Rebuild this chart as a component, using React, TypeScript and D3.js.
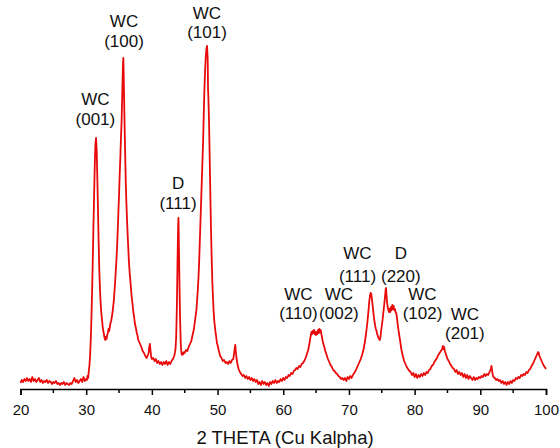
import React, { useEffect, useRef } from 'react';
import * as d3 from 'd3';

// XRD pattern: [2theta, intensity a.u.]
const base20to30: [number, number][] = [
  [20.0, 6], [20.2, 9], [20.4, 7], [20.6, 10], [20.8, 8], [21.0, 11], [21.2, 8], [21.4, 10], [21.6, 7], [21.8, 12],
  [22.0, 8], [22.2, 10], [22.4, 7], [22.6, 9], [22.8, 11], [23.0, 7], [23.2, 9], [23.4, 6], [23.6, 8], [23.8, 7],
  [24.0, 9], [24.2, 6], [24.4, 8], [24.6, 7], [24.8, 5], [25.0, 7], [25.2, 6], [25.4, 8], [25.6, 5], [25.8, 6],
  [26.0, 4], [26.2, 6], [26.4, 5], [26.6, 7], [26.8, 4], [27.0, 6], [27.2, 5], [27.4, 4], [27.6, 6], [27.8, 5],
  [28.0, 8], [28.2, 11], [28.4, 7], [28.6, 9], [28.8, 6], [29.0, 8], [29.2, 10], [29.4, 7], [29.6, 12], [29.8, 8],
  [30.0, 10],
];

const peaks30to55: [number, number][] = [
  [30.1, 9], [30.2, 13], [30.3, 11], [30.4, 18], [30.5, 24], [30.6, 34], [30.7, 50], [30.8, 72], [30.9, 98],
  [31.0, 128], [31.1, 162], [31.2, 192], [31.3, 222], [31.4, 244], [31.5, 251], [31.6, 238], [31.7, 210],
  [31.8, 178], [31.9, 146], [32.0, 118], [32.1, 100], [32.2, 86], [32.3, 76], [32.4, 70], [32.5, 63], [32.6, 58],
  [32.7, 55], [32.8, 51], [32.9, 49], [33.0, 52], [33.1, 50], [33.2, 54], [33.3, 56], [33.4, 60],
  [33.5, 58], [33.6, 62], [33.7, 66], [33.8, 68], [33.9, 72], [34.0, 76], [34.1, 82], [34.2, 88], [34.3, 97],
  [34.4, 106], [34.5, 118], [34.6, 128], [34.7, 142], [34.8, 158], [34.9, 176], [35.0, 194], [35.1, 214],
  [35.2, 232], [35.3, 252], [35.4, 270], [35.5, 298], [35.6, 325], [35.65, 331], [35.7, 318], [35.8, 280],
  [35.9, 246], [36.0, 214], [36.1, 190], [36.2, 172], [36.3, 156], [36.4, 142], [36.5, 128], [36.6, 118],
  [36.7, 110], [36.8, 102], [36.9, 94], [37.0, 88], [37.1, 82], [37.2, 76], [37.3, 72], [37.4, 66], [37.5, 63],
  [37.6, 60], [37.7, 56], [37.8, 54], [37.9, 50], [38.0, 48], [38.2, 45], [38.4, 42], [38.6, 38], [38.8, 36],
  [39.0, 33], [39.2, 31], [39.4, 34], [39.5, 36], [39.6, 42], [39.7, 45], [39.8, 38], [39.9, 32], [40.0, 30],
  [40.2, 31], [40.4, 28], [40.6, 30], [40.8, 26], [41.0, 28], [41.2, 25], [41.4, 27], [41.6, 24], [41.8, 27],
  [42.0, 25], [42.2, 28], [42.4, 24], [42.6, 27], [42.8, 25], [43.0, 28], [43.2, 30], [43.4, 33], [43.5, 36],
  [43.6, 40], [43.7, 52], [43.8, 80], [43.9, 125], [44.0, 165], [44.05, 171], [44.1, 150], [44.2, 105],
  [44.3, 68], [44.4, 45], [44.5, 36], [44.6, 34], [44.7, 36], [44.8, 35], [44.9, 37], [45.0, 36], [45.2, 39],
  [45.4, 38], [45.6, 42], [45.8, 45], [46.0, 48], [46.2, 54], [46.4, 60], [46.6, 70], [46.8, 80], [47.0, 100],
  [47.1, 112], [47.2, 128], [47.3, 148], [47.4, 168], [47.5, 188], [47.6, 208], [47.7, 228], [47.8, 248],
  [47.9, 275], [48.0, 300], [48.1, 318], [48.2, 332], [48.3, 340], [48.4, 343], [48.5, 330], [48.55, 300],
  [48.6, 292], [48.7, 268], [48.8, 232], [48.9, 195], [49.0, 160], [49.1, 132], [49.2, 108], [49.3, 92],
  [49.4, 78], [49.5, 68], [49.6, 62], [49.7, 56], [49.8, 52], [49.9, 46], [50.0, 44], [50.2, 38], [50.4, 33],
  [50.6, 31], [50.8, 28], [51.0, 29], [51.2, 26], [51.4, 27], [51.6, 25], [51.8, 28], [52.0, 26], [52.2, 29],
  [52.4, 30], [52.5, 35], [52.6, 40], [52.7, 44], [52.8, 36], [52.9, 30], [53.0, 26], [53.2, 20], [53.4, 17],
  [53.6, 15], [53.8, 13], [54.0, 14], [54.2, 11], [54.4, 13], [54.6, 10], [54.8, 12], [55.0, 9],
];

const peaks55to100: [number, number][] = [
  [55.2, 11], [55.4, 8], [55.6, 10], [55.8, 7], [56.0, 9], [56.2, 5], [56.4, 7], [56.6, 4], [56.8, 8], [57.0, 5],
  [57.2, 7], [57.4, 4], [57.6, 6], [57.8, 3], [58.0, 7], [58.2, 5], [58.4, 8], [58.6, 6], [58.8, 9], [59.0, 6],
  [59.2, 8], [59.4, 7], [59.6, 10], [59.8, 8], [60.0, 11], [60.2, 9], [60.4, 12], [60.6, 11], [60.8, 14],
  [61.0, 13], [61.2, 16], [61.4, 15], [61.6, 18], [61.8, 19], [62.0, 21], [62.2, 20], [62.4, 23], [62.6, 22],
  [62.8, 25], [63.0, 26], [63.2, 28], [63.4, 31], [63.6, 35], [63.8, 39], [64.0, 46], [64.1, 50], [64.2, 54],
  [64.3, 57], [64.4, 55], [64.5, 58], [64.6, 56], [64.7, 59], [64.8, 55], [64.9, 57], [65.0, 54], [65.1, 57],
  [65.2, 55], [65.3, 59], [65.4, 56], [65.5, 60], [65.6, 57], [65.7, 59], [65.8, 55], [65.9, 52], [66.0, 48],
  [66.2, 43], [66.4, 38], [66.6, 34], [66.8, 30], [67.0, 27], [67.2, 24], [67.4, 22], [67.6, 19], [67.8, 18],
  [68.0, 16], [68.2, 15], [68.4, 13], [68.6, 12], [68.8, 10], [69.0, 11], [69.2, 9], [69.4, 11], [69.6, 8],
  [69.8, 12], [70.0, 10], [70.2, 13], [70.4, 11], [70.6, 14], [70.8, 16], [71.0, 18], [71.2, 21], [71.4, 24],
  [71.6, 27], [71.8, 30], [72.0, 34], [72.2, 39], [72.4, 46], [72.6, 55], [72.8, 66], [73.0, 80], [73.1, 88],
  [73.2, 93], [73.3, 96], [73.4, 95], [73.5, 90], [73.6, 84], [73.7, 78], [73.8, 72], [73.9, 67], [74.0, 63],
  [74.1, 60], [74.2, 58], [74.3, 55], [74.4, 53], [74.5, 51], [74.6, 50], [74.7, 49], [74.8, 52], [74.9, 58],
  [75.0, 63], [75.1, 68], [75.2, 74], [75.3, 80], [75.4, 86], [75.5, 93], [75.6, 100], [75.65, 101], [75.7, 96],
  [75.8, 87], [75.9, 82], [76.0, 79], [76.1, 77], [76.2, 80], [76.3, 77], [76.4, 82], [76.5, 79], [76.6, 84],
  [76.7, 80], [76.8, 83], [76.9, 79], [77.0, 80], [77.1, 77], [77.2, 76], [77.3, 72], [77.4, 66], [77.5, 61],
  [77.6, 56], [77.7, 52], [77.8, 48], [77.9, 43], [78.0, 39], [78.2, 33], [78.4, 28], [78.6, 25], [78.8, 22],
  [79.0, 20], [79.2, 18], [79.4, 17], [79.6, 14], [79.8, 16], [80.0, 12], [80.2, 15], [80.4, 11], [80.6, 14],
  [80.8, 12], [81.0, 15], [81.2, 13], [81.4, 16], [81.6, 14], [81.8, 17], [82.0, 16], [82.2, 19], [82.4, 20],
  [82.6, 23], [82.8, 24], [83.0, 27], [83.2, 29], [83.4, 31], [83.6, 34], [83.8, 36], [84.0, 38], [84.2, 40],
  [84.3, 43], [84.4, 40], [84.5, 42], [84.6, 38], [84.8, 34], [85.0, 30], [85.2, 28], [85.4, 25], [85.6, 23],
  [85.8, 21], [86.0, 20], [86.2, 17], [86.4, 19], [86.6, 15], [86.8, 17], [87.0, 14], [87.2, 16], [87.4, 12],
  [87.6, 15], [87.8, 11], [88.0, 14], [88.2, 10], [88.4, 13], [88.6, 11], [88.8, 9], [89.0, 12], [89.2, 9],
  [89.4, 11], [89.6, 10], [89.8, 12], [90.0, 11], [90.2, 13], [90.4, 12], [90.6, 15], [90.8, 13], [91.0, 15],
  [91.2, 14], [91.4, 17], [91.6, 20], [91.7, 23], [91.8, 18], [91.9, 14], [92.0, 12], [92.2, 11], [92.4, 9],
  [92.6, 10], [92.8, 8], [93.0, 9], [93.2, 6], [93.4, 8], [93.6, 5], [93.8, 7], [94.0, 4], [94.2, 7], [94.4, 5],
  [94.6, 8], [94.8, 6], [95.0, 9], [95.2, 8], [95.4, 11], [95.6, 10], [95.8, 12], [96.0, 11], [96.2, 14],
  [96.4, 13], [96.6, 15], [96.8, 14], [97.0, 17], [97.2, 16], [97.4, 19], [97.6, 20], [97.8, 23], [98.0, 25],
  [98.2, 28], [98.4, 31], [98.6, 34], [98.8, 37], [98.9, 36], [99.0, 33], [99.2, 30], [99.4, 27], [99.6, 24],
  [99.8, 22], [100.0, 20],
];

const majorTicks = [20, 30, 40, 50, 60, 70, 80, 90, 100];
const minorTicks = [25, 35, 45, 55, 65, 75, 85, 95];

// peak labels: phase, reflection, anchored in data units (2theta, intensity of each text line)
const peakLabels = [
  { phase: 'WC', hkl: '(001)', theta: 31.4, i1: 284, i2: 264 },
  { phase: 'WC', hkl: '(100)', theta: 35.76, i1: 362, i2: 342 },
  { phase: 'WC', hkl: '(101)', theta: 48.39, i1: 370, i2: 351 },
  { phase: 'D', hkl: '(111)', theta: 43.98, i1: 200, i2: 180 },
  { phase: 'WC', hkl: '(111)', theta: 71.3, i1: 130, i2: 107 },
  { phase: 'D', hkl: '(220)', theta: 77.9, i1: 130, i2: 107 },
  { phase: 'WC', hkl: '(110)', theta: 62.3, i1: 89, i2: 70 },
  { phase: 'WC', hkl: '(002)', theta: 68.48, i1: 89, i2: 70 },
  { phase: 'WC', hkl: '(102)', theta: 81.2, i1: 89, i2: 70 },
  { phase: 'WC', hkl: '(201)', theta: 87.65, i1: 69, i2: 50 },
];

const W = 560;
const H = 448;
const FONT = 'Arial, "Liberation Sans", sans-serif';

export default function App() {
  const axisRef = useRef<SVGGElement>(null);

  const pattern = [...base20to30, ...peaks30to55, ...peaks55to100];

  const x = d3.scaleLinear().domain([20, 100]).range([20.5, 546]);
  const y = d3.scaleLinear().domain([0, 343]).range([389, 46]);

  const line = d3
    .line<[number, number]>()
    .x((d) => x(d[0]))
    .y((d) => y(d[1]));

  useEffect(() => {
    document.body.style.margin = '0';
    const g = d3.select(axisRef.current);
    g.selectAll('*').remove();

    g.call(
      d3.axisBottom(x).tickValues(majorTicks).tickSize(6).tickPadding(9).tickFormat(d3.format('d')) as any
    );
    g.select('.domain').attr('stroke', '#000').attr('stroke-width', 1.5);
    g.selectAll('.tick line').attr('stroke', '#000').attr('stroke-width', 1.5);
    g.selectAll('.tick text').attr('font-size', 15).attr('font-family', FONT).attr('fill', '#111');

    g.selectAll('.minor')
      .data(minorTicks)
      .enter()
      .append('line')
      .attr('class', 'minor')
      .attr('x1', (d) => x(d))
      .attr('x2', (d) => x(d))
      .attr('y1', 0)
      .attr('y2', 4)
      .attr('stroke', '#000')
      .attr('stroke-width', 1.5);
  }, []);

  return (
    <svg width={W} height={H} style={{ display: 'block', background: '#fff' }}>
      <path d={line(pattern) || ''} fill="none" stroke="#e80a0a" strokeWidth={1.8} strokeLinejoin="round" />
      <g ref={axisRef} transform={`translate(0, ${y(0)})`} />
      <text x={285} y={444} textAnchor="middle" fontSize={18.5} fontFamily={FONT} fill="#111">
        2 THETA (Cu Kalpha)
      </text>
      {peakLabels.map((l) => (
        <g key={l.phase + l.hkl} fontFamily={FONT} fontSize={17} fill="#111" textAnchor="middle">
          <text x={x(l.theta)} y={y(l.i1)}>{l.phase}</text>
          <text x={x(l.theta)} y={y(l.i2)}>{l.hkl}</text>
        </g>
      ))}
    </svg>
  );
}
